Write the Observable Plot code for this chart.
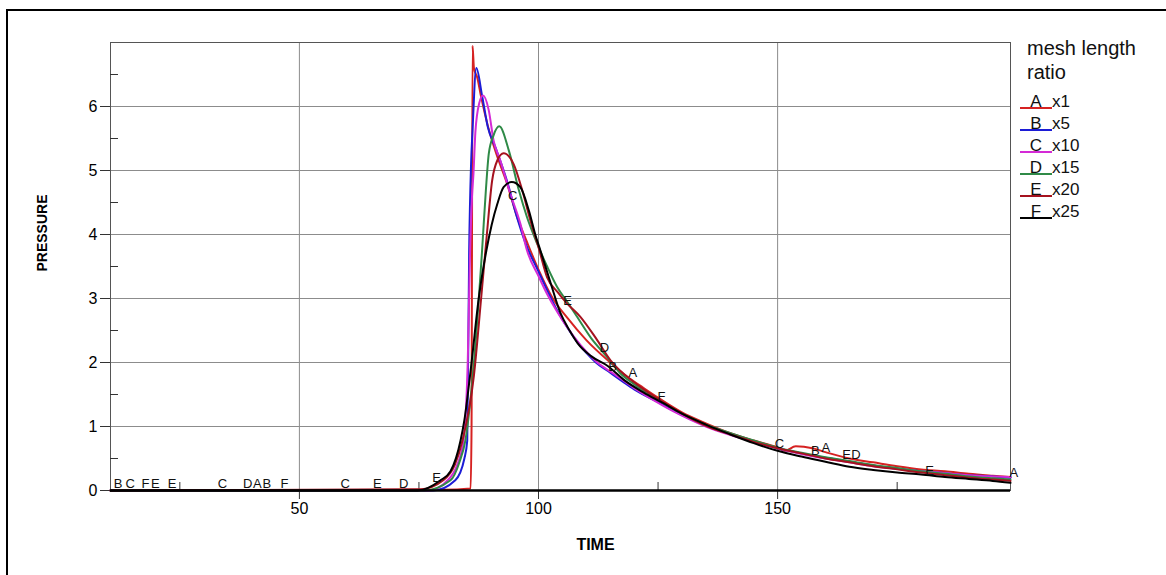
<!DOCTYPE html>
<html><head><meta charset="utf-8">
<script src="https://cdn.jsdelivr.net/npm/d3@7"></script>
<script src="https://cdn.jsdelivr.net/npm/@observablehq/plot@0.6"></script>
<style>
body{margin:0;background:#fff;}
#wrap{position:relative;width:1166px;height:575px;overflow:hidden;background:#fff;font-family:"Liberation Sans",Arial,sans-serif;}
#border{position:absolute;left:6px;top:9px;right:-4px;bottom:-4px;border-left:2px solid #000;border-top:2px solid #000;pointer-events:none;}
#legend{position:absolute;left:0;top:0;pointer-events:none;}
#wrap > svg.plot{position:absolute;left:0;top:0;}
</style></head><body><div id="wrap"><div id="border"></div></div>
<script>
// ---- data ----
const seriesKeys = ["A","B","C","D","E","F"];
const ratioLabels = ["x1","x5","x10","x15","x20","x25"];
const seriesColors = ["#d62222","#1c1cd6","#d42ad6","#2f8a47","#a5121f","#000000"];
const legendTitleLines = ["mesh length","ratio"];

const xMajorTicks = [50,100,150];
const xMinorTicks = [25,75,125,175];
const yMajorTicks = [0,1,2,3,4,5,6];
const yGridTicks = [1,2,3,4,5,6];
const yMinorTicks = [0.5,1.5,2.5,3.5,4.5,5.5,6.5];

const A_t = [10.5,80,85.8,86.0,86.2,86.5,87.2,88.0,89.4,91.0,93.4,95.5,97.5,100,103,106,110,115,118.5,122,125,130,135,140,145,150,151.5,153.8,157.3,160,165,170,175,180,185,190,195,198.7];
const A_p = [0,0.01,0.03,1.0,6.95,6.6,6.45,6.15,5.7,5.3,4.8,4.28,3.9,3.45,3.0,2.7,2.35,2.0,1.78,1.6,1.45,1.22,1.05,0.9,0.78,0.67,0.62,0.69,0.66,0.6,0.5,0.44,0.38,0.33,0.3,0.26,0.23,0.21];

const B_t = [10.5,78,82.6,84.5,85.1,85.5,85.9,86.2,87.0,88.2,89.4,91.0,93.4,95.5,97.3,100,102,104,106,108,110,112,115,118,120,125,130,135,140,145,150,155,160,165,170,175,180,185,190,195,198.7];
const B_p = [0,0,0.16,0.5,0.78,3.75,5.1,5.62,6.6,6.17,5.68,5.36,4.84,4.27,3.86,3.42,3.1,2.8,2.55,2.33,2.15,2.0,1.84,1.68,1.58,1.38,1.18,1.02,0.89,0.77,0.66,0.58,0.51,0.45,0.39,0.34,0.3,0.27,0.24,0.22,0.2];

const C_t = [10.5,77,81,83,84.3,85.2,85.7,86.1,86.4,86.8,87.6,88.4,89.6,90.6,92.0,94.1,96.2,97.6,100,101.8,104,106,108.8,112,115.8,120,126.2,130,135,140,145,150,155,160,165,170,175,180,185,190,195,198.7];
const C_p = [0,0,0.16,0.4,0.78,2.0,3.75,4.6,4.95,5.6,6.05,6.17,5.94,5.47,5.16,4.64,4.17,3.75,3.35,3.07,2.78,2.55,2.27,2.02,1.82,1.6,1.32,1.17,1.0,0.87,0.76,0.66,0.57,0.5,0.44,0.38,0.34,0.3,0.27,0.24,0.22,0.21];

const D_t = [10.5,76,81.6,83.5,84.7,86.5,88.2,89.0,89.6,90.6,91.8,93.8,95.9,97.6,99.7,101.8,103.9,106,108.1,111,114.4,117,120,125,130,135,140,145,150,155,160,165,170,175,180,185,190,195,198.7];
const D_p = [0,0,0.16,0.45,0.78,2.0,3.75,4.7,5.26,5.55,5.69,5.31,4.69,4.27,3.86,3.5,3.18,2.95,2.71,2.38,2.08,1.84,1.66,1.42,1.2,1.03,0.9,0.78,0.67,0.59,0.52,0.46,0.4,0.35,0.3,0.26,0.22,0.19,0.17];

const E_t = [10.5,75.3,80.1,82.5,84.1,86.5,88.0,89.2,90.3,91.4,92.7,94.8,96.6,98.3,100,101.8,104,106,108.8,112,115.1,120,125,128.3,132,136,140,145,150,155,160,165,170,175,180,185,190,195,198.7];
const E_p = [0,0.02,0.16,0.4,0.78,1.8,3.0,4.0,4.84,5.16,5.27,5.1,4.69,4.22,3.8,3.33,3.1,2.92,2.71,2.38,2.03,1.69,1.43,1.28,1.12,0.98,0.88,0.76,0.66,0.58,0.5,0.44,0.38,0.33,0.28,0.24,0.2,0.17,0.15];

const F_t = [10.5,74.7,79.5,81.6,83.7,84.5,86.0,87.5,89.1,90.2,91.4,92.7,94.4,96.2,98.0,99.4,100.4,102.5,104.6,106.5,108.2,111,114.4,118,122,125.7,130,135,140,145,150,155,160,165,170,175,180,185,190,195,198.7];
const F_p = [0,0,0.16,0.3,0.78,1.1,2.0,3.0,3.75,4.15,4.48,4.74,4.82,4.74,4.37,3.98,3.75,3.25,2.77,2.5,2.3,2.1,1.95,1.72,1.53,1.38,1.2,1.03,0.88,0.74,0.62,0.53,0.45,0.37,0.32,0.28,0.25,0.21,0.18,0.15,0.12];

// curve identification labels (series letter, time, pressure of label centre)
const labelSeries = ["B","C","F","E","E","C","D","A","B","F","C","E","D","E","C","E","D","B","A","F","C","B","A","E","D","E","A"];
const labelTime   = [12.1,14.6,17.8,19.9,23.4,33.9,39.2,41.2,43.2,46.9,59.6,66.3,71.8,78.7,94.6,106.1,113.8,115.5,119.7,125.7,150.4,157.9,160.1,164.4,166.4,181.8,199.4];
const labelPress  = [0.1,0.1,0.1,0.1,0.1,0.1,0.1,0.1,0.1,0.1,0.1,0.1,0.1,0.2,4.6,2.97,2.23,1.94,1.84,1.47,0.73,0.62,0.66,0.55,0.55,0.31,0.28];

// ---- build tables ----
const seriesT = [A_t,B_t,C_t,D_t,E_t,F_t];
const seriesP = [A_p,B_p,C_p,D_p,E_p,F_p];
const rows = [];
seriesKeys.forEach((s,i)=>seriesT[i].forEach((t,j)=>rows.push({s, t, p: seriesP[i][j]})));
const labels = labelSeries.map((s,i)=>({s, t: labelTime[i], p: labelPress[i]}));

const chart = Plot.plot({
  width: 1166, height: 575,
  marginLeft: 110, marginRight: 156, marginTop: 42, marginBottom: 85,
  style: {fontFamily: "'Liberation Sans', Arial, sans-serif", background: "transparent", color: "#000"},
  x: {domain: [10.5, 198.7]},
  y: {domain: [0, 7]},
  color: {domain: seriesKeys, range: seriesColors},
  marks: [
    Plot.gridX(xMajorTicks, {stroke: "#8c8c8c", strokeOpacity: 1}),
    Plot.gridY(yGridTicks, {stroke: "#8c8c8c", strokeOpacity: 1}),
    Plot.frame({stroke: "#555"}),
    Plot.axisX(xMajorTicks, {tickSize: 9, tickPadding: 3, fontSize: 16, label: null, stroke: "#333", tickFormat: "d"}),
    Plot.axisX(xMinorTicks, {tickSize: -8, tickFormat: () => "", label: null, stroke: "#333"}),
    Plot.axisY(yMajorTicks, {tickSize: 10, tickPadding: 3, fontSize: 16, label: null, stroke: "#333", tickFormat: "d"}),
    Plot.axisY(yMinorTicks, {tickSize: -8, tickFormat: () => "", label: null, stroke: "#333"}),
    Plot.line(rows, {x: "t", y: "p", z: "s", stroke: "s", strokeWidth: 2, curve: "monotone-x"}),
    Plot.ruleY([0], {stroke: "#000", strokeWidth: 2.5}),
    Plot.text(labels, {x: "t", y: "p", text: "s", fontSize: 13, fill: "#111"}),
    Plot.text(["PRESSURE"], {frameAnchor: "left", dx: -68, dy: 5, rotate: -90, fontWeight: "bold", fontSize: 14}),
    Plot.text(["TIME"], {frameAnchor: "bottom", dx: 35, dy: 59, fontWeight: "bold", fontSize: 16})
  ]
});
chart.classList.add("plot");
document.getElementById("wrap").appendChild(chart);

// ---- legend ----
const leg = d3.select("#wrap").append("svg").attr("id","legend").attr("width",1166).attr("height",575)
  .style("font-family","'Liberation Sans', Arial, sans-serif");
legendTitleLines.forEach((line,i)=>{
  leg.append("text").attr("x",1027).attr("y",55+24*i).attr("font-size",20).attr("fill","#111").text(line);
});
seriesKeys.forEach((s,i)=>{
  const y = 107 + 22*i;
  leg.append("line").attr("x1",1020).attr("x2",1052).attr("y1",y+1).attr("y2",y+1)
    .attr("stroke",seriesColors[i]).attr("stroke-width",2);
  leg.append("text").attr("x",1036).attr("y",y).attr("text-anchor","middle").attr("font-size",17).attr("fill","#111").text(s);
  leg.append("text").attr("x",1052).attr("y",y).attr("font-size",17).attr("fill","#111").text(ratioLabels[i]);
});
</script>
</body></html>
